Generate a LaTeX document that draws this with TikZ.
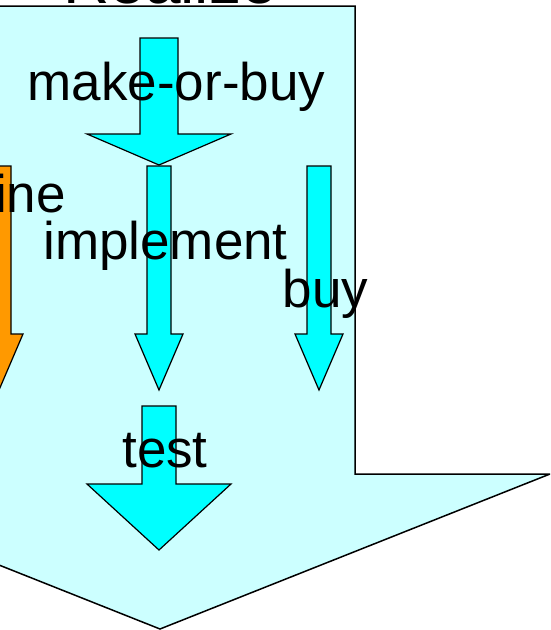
\documentclass[tikz,border=0pt]{standalone}
\usepackage{fontspec}
\setmainfont{Liberation Sans}
\usepackage{tikz}
\usetikzlibrary{positioning}

\definecolor{palecyan}{HTML}{CCFFFF}
\definecolor{brightcyan}{HTML}{00FFFF}
\definecolor{tangerine}{HTML}{FF9900}

% block arrow pointing down: style, centre x, shaft half width, head half width, top, head top, tip
\newcommand{\blockarrow}[7]{%
  \filldraw[#1] (#2-#3,#5) -- (#2+#3,#5) -- (#2+#3,#6) -- (#2+#4,#6)
    -- (#2,#7) -- (#2-#4,#6) -- (#2-#3,#6) -- cycle;}

\begin{document}
\begin{tikzpicture}[
    x=1pt, y=-1pt,
    phase/.style={draw=black, line width=1.5pt, line join=miter, fill=palecyan},
    task/.style={draw=black, line width=1.2pt, line join=miter, fill=brightcyan},
    other/.style={draw=black, line width=1.2pt, line join=miter, fill=tangerine},
    label/.style={inner sep=0pt, anchor=base, font=\fontsize{53}{60}\selectfont},
]
    \useasboundingbox (0,0) rectangle (550,630);
    \clip (0,0) rectangle (550,630);

    % the phase arrow and its steps
    \blockarrow{phase}{160}{195}{390}{6}{474}{629}
    \blockarrow{other}{-1}{12}{24}{166}{334}{390}
    \blockarrow{task}{159}{19}{72}{38}{134}{165}
    \blockarrow{task}{159}{12}{24}{166}{334}{390}
    \blockarrow{task}{319}{12}{24}{166}{334}{390}
    \blockarrow{task}{159}{17}{72}{406}{484}{550}

    \node[label, font=\fontsize{64}{70}\selectfont] (realize) at (170,3) {Realize};
    \node[label] (makebuy) at (176.5,100) {make-or-buy};
    \node[label, anchor=base east] (define) at (66,212) {ine};
    \node[label] (implement) at (165.5,259) {implement};
    \node[label] (buy) at (325.5,307) {buy};
    \node[label] (test) at (165,467) {test};
\end{tikzpicture}
\end{document}
